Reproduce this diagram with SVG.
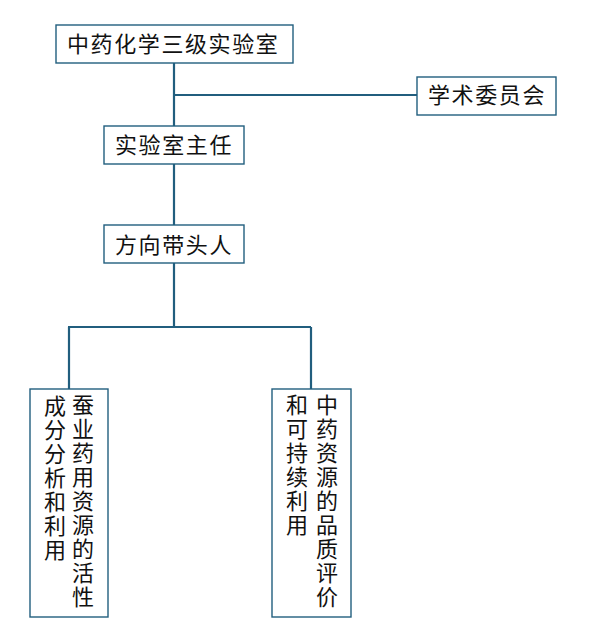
<svg xmlns="http://www.w3.org/2000/svg" width="599" height="639" viewBox="0 0 599 639">
<style>
.box{fill:#fff;stroke:#215E7E;stroke-width:1.4}
.ln{stroke:#215E7E;stroke-width:2.2;fill:none}
.t{font-family:"Noto Sans CJK SC","Noto Sans",sans-serif;font-size:22px;fill:#111;letter-spacing:1.6px}
.v{font-family:"Noto Sans CJK SC","Noto Sans",sans-serif;font-size:22px;fill:#111;writing-mode:vertical-rl;letter-spacing:2px}
</style>
<rect width="599" height="639" fill="#fff"/>
<g id="connectors">
<path class="ln" d="M174 63V126M174 95H417M174 164V225M174 263V327M68 327H311M69 327V389M311 327V389"/>
</g>
<g id="n1"><rect class="box" x="56" y="25" width="237" height="38"/><text class="t" x="67" y="52">中药化学三级实验室</text></g>
<g id="n2"><rect class="box" x="417" y="77" width="139" height="38"/><text class="t" x="428" y="103">学术委员会</text></g>
<g id="n3"><rect class="box" x="104" y="126" width="140" height="38"/><text class="t" x="115" y="153">实验室主任</text></g>
<g id="n4"><rect class="box" x="104" y="225" width="140" height="38"/><text class="t" x="115" y="253">方向带头人</text></g>
<g id="n5"><rect class="box" x="30" y="389" width="78" height="228"/>
<text class="v" x="83" y="394">蚕业药用资源的活性</text>
<text class="v" x="55" y="395">成分分析和利用</text>
</g>
<g id="n6"><rect class="box" x="272" y="389" width="79" height="228"/>
<text class="v" x="327" y="394">中药资源的品质评价</text>
<text class="v" x="297" y="394">和可持续利用</text>
</g>
</svg>
